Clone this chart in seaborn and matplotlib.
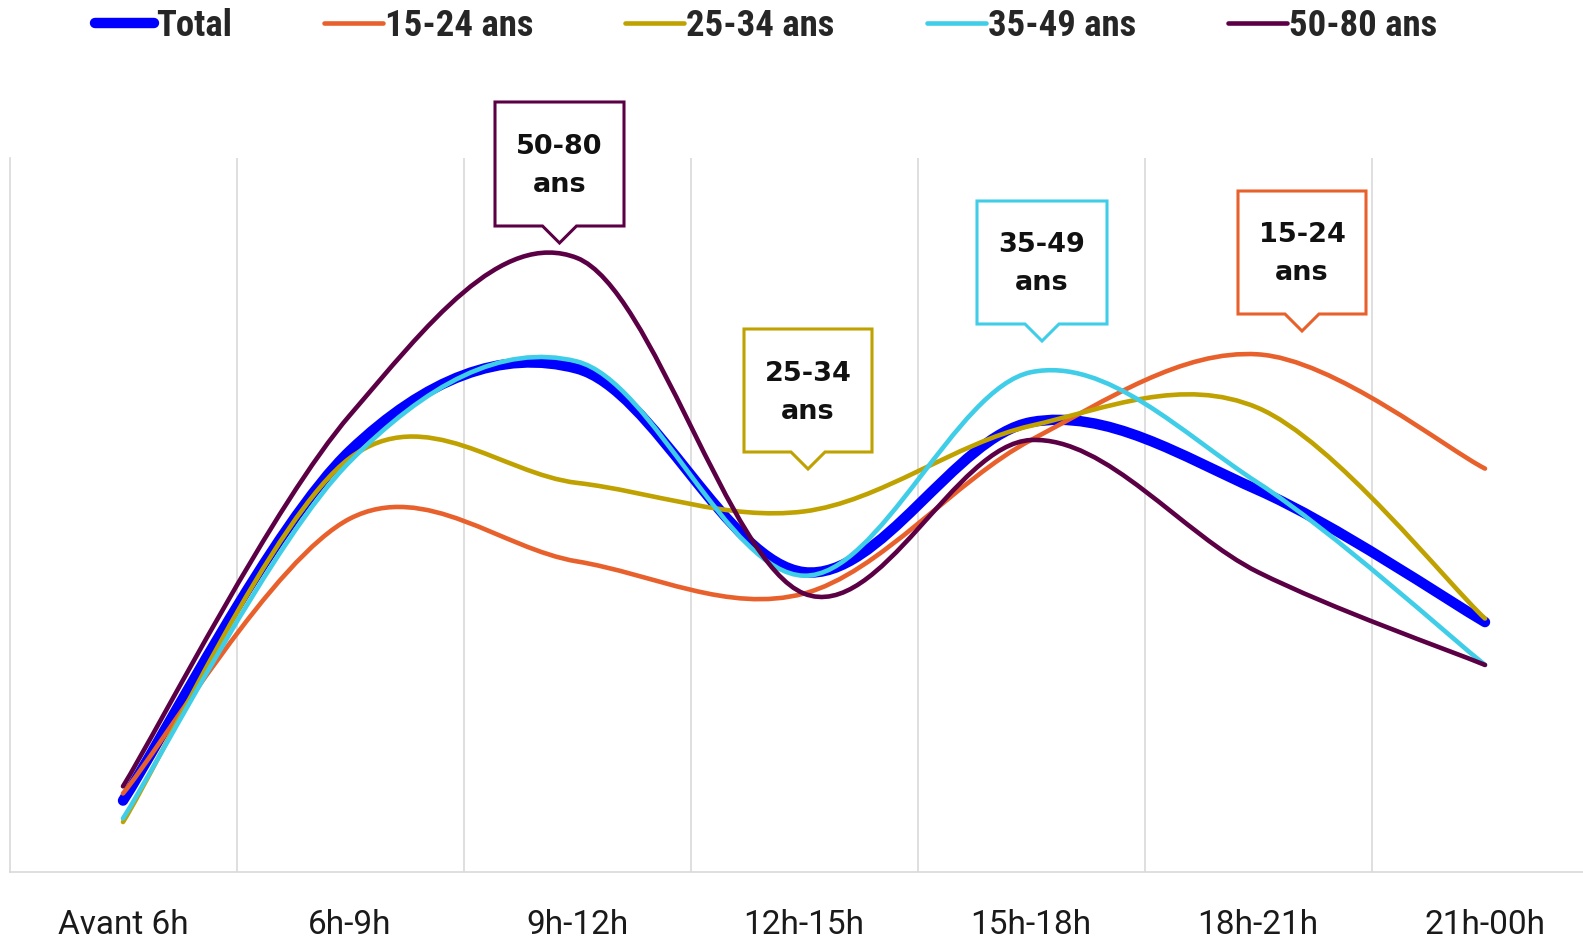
import numpy as np
import matplotlib
matplotlib.use("Agg")
import matplotlib.pyplot as plt
import seaborn as sns
from matplotlib import font_manager
from matplotlib.path import Path
from matplotlib.patches import PathPatch, Polygon
from matplotlib.lines import Line2D

# ==========================================================
# DATA
# ==========================================================

categories = ["Avant 6h", "6h-9h", "9h-12h", "12h-15h", "15h-18h", "18h-21h", "21h-00h"]

series_names = ["Total", "15-24 ans", "25-34 ans", "35-49 ans", "50-80 ans"]

total = [2.0, 11.8, 14.1, 8.4, 12.6, 10.7, 7.0]
age_15_24 = [2.2, 9.9, 8.7, 7.8, 12.1, 14.5, 11.3]
age_25_34 = [1.4, 11.6, 10.9, 10.1, 12.5, 13.0, 7.1]
age_35_49 = [1.5, 11.5, 14.3, 8.3, 14.0, 10.9, 5.8]
age_50_80 = [2.4, 12.8, 17.2, 7.8, 12.1, 8.4, 5.8]

values = [total, age_15_24, age_25_34, age_35_49, age_50_80]

colors = ["#0000FF", "#E8612C", "#BFA100", "#3FCDE8", "#5C0046"]
widths = [7.5, 3.3, 3.3, 3.3, 3.3]

# ==========================================================
# STYLE
# ==========================================================

sns.set_theme(style="white")

names = {f.name for f in font_manager.fontManager.ttflist}

label_font = "Roboto" if "Roboto" in names else "DejaVu Sans"
legend_font = "Roboto Condensed" if "Roboto Condensed" in names else label_font

plt.rcParams["font.family"] = [label_font, "DejaVu Sans"]

W, H = 1583, 940

fig = plt.figure(figsize=(W / 100, H / 100), dpi=100)

ax = fig.add_axes([9.5 / W, (H - 872) / H, 1589 / W, (872 - 158) / H])


# smooth line like the spreadsheet one (bezier through the points)
def smooth_path(xs, ys):
    pts = np.column_stack([xs, ys]).astype(float)
    n = len(pts)
    verts = [pts[0]]
    codes = [Path.MOVETO]
    for i in range(n - 1):
        p0 = pts[max(i - 1, 0)]
        p1 = pts[i]
        p2 = pts[i + 1]
        p3 = pts[min(i + 2, n - 1)]
        verts += [p1 + (p2 - p0) / 6, p2 - (p3 - p1) / 6, p2]
        codes += [Path.CURVE4] * 3
    return Path(verts, codes)


x = np.arange(len(categories))

for name, vals, color, lw in zip(series_names, values, colors, widths):

    patch = PathPatch(
        smooth_path(x, vals),
        fill=False,
        edgecolor=color,
        lw=lw,
        capstyle="round",
        joinstyle="round"
    )

    ax.add_patch(patch)

ax.set_xlim(-0.5, len(categories) - 0.5)
ax.set_ylim(0, 20)

ax.set_xticks(x)
ax.set_xticklabels(categories, fontsize=24, color="#1a1a1a")
ax.set_xticks(np.arange(0.5, len(categories) - 1, 1), minor=True)
ax.set_yticks([])

ax.tick_params(axis="x", which="both", length=0, pad=27)

ax.grid(False)
ax.grid(which="minor", axis="x", color="#D9D9D9", lw=1.2)

for side in ["top", "right"]:
    ax.spines[side].set_visible(False)

for side in ["left", "bottom"]:
    ax.spines[side].set_color("#D9D9D9")
    ax.spines[side].set_linewidth(1.2)

# ==========================================================
# LEGEND
# ==========================================================

handles = [
    Line2D([0], [0], color=c, lw=lw, solid_capstyle="round")
    for c, lw in zip(colors, widths)
]

fig.legend(
    handles,
    series_names,
    loc="center",
    bbox_to_anchor=(766 / W, 1 - 26 / H),
    ncol=5,
    frameon=False,
    prop={"family": legend_font, "weight": "bold", "size": 26.5},
    handlelength=1.6,
    handletextpad=0.06,
    columnspacing=2.5,
    borderpad=0
)

# ==========================================================
# CALLOUTS
# ==========================================================

callouts = [
    ("50-80\nans", 495, 624, 102, 226, colors[4]),
    ("25-34\nans", 744, 872, 329, 452, colors[2]),
    ("35-49\nans", 977, 1107, 201, 324, colors[3]),
    ("15-24\nans", 1238, 1366, 191, 314, colors[1]),
]


def px(xp, yp):
    return (xp / W, 1 - yp / H)


for label, x0, x1, y0, y1, color in callouts:

    xc = (x0 + x1) / 2

    shape = [
        px(x0, y0), px(x1, y0), px(x1, y1),
        px(xc + 17, y1), px(xc, y1 + 17), px(xc - 17, y1),
        px(x0, y1)
    ]

    fig.add_artist(Polygon(
        shape,
        closed=True,
        facecolor="white",
        edgecolor=color,
        lw=2.2,
        transform=fig.transFigure,
        joinstyle="miter"
    ))

    fig.text(
        xc / W,
        1 - ((y0 + y1) / 2 + 2) / H,
        label,
        ha="center",
        va="center",
        fontsize=19.5,
        fontweight="bold",
        family="DejaVu Sans",
        linespacing=1.6,
        color="#111111"
    )

plt.savefig("out.png", dpi=100)
plt.close()
